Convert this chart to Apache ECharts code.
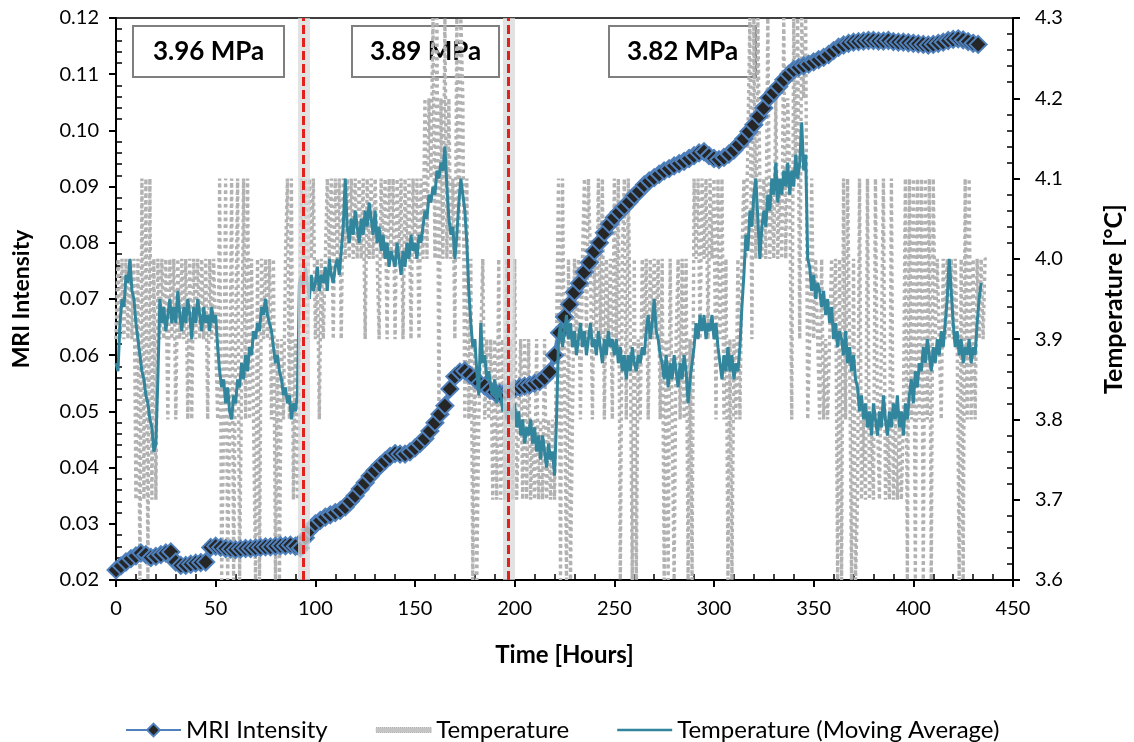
<!DOCTYPE html>
<html><head><meta charset="utf-8">
<script src="https://cdn.jsdelivr.net/npm/echarts@6/dist/echarts.min.js"></script>
<style>html,body{margin:0;padding:0;background:#fff}#c{width:1134px;height:742px}</style>
</head><body><div id="c"></div>
<script>
// ---------------- DATA ----------------
const seriesNames = ['MRI Intensity', 'Temperature', 'Temperature (Moving Average)'];
const pressureLabels = ['3.96 MPa', '3.89 MPa', '3.82 MPa'];
const pressureChangeHours = [94, 197];

// MRI intensity, one value every 2.5 h, chunks [startHour, values]
const mriStep = 2.5;
const mriChunks = [
  [0,   [0.0218,0.0225,0.0232,0.0238,0.0243,0.0248,0.0245,0.0240,0.0242,0.0245,0.0248,0.0250,0.0232,0.0226,0.0226,0.0228,0.0230,0.0231,0.0232,0.0258]],
  [50,  [0.0260,0.0258,0.0256,0.0255,0.0254,0.0255,0.0256,0.0256,0.0257,0.0258,0.0259,0.0259,0.0260,0.0261,0.0261,0.0262,0.0260,0.0257,0.0275,0.0290]],
  [100, [0.0300,0.0306,0.0312,0.0316,0.0320,0.0324,0.0330,0.0340,0.0350,0.0362,0.0373,0.0385,0.0395,0.0404,0.0412,0.0420,0.0425,0.0424,0.0424,0.0428]],
  [150, [0.0435,0.0443,0.0452,0.0465,0.0480,0.0495,0.0510,0.0540,0.0562,0.0570,0.0572,0.0565,0.0558,0.0550,0.0545,0.0538,0.0534,0.0532,0.0533,0.0536]],
  [200, [0.0540,0.0543,0.0545,0.0547,0.0550,0.0553,0.0560,0.0570,0.0600,0.0640,0.0668,0.0690,0.0712,0.0728,0.0748,0.0765,0.0785,0.0800,0.0818,0.0833]],
  [250, [0.0845,0.0855,0.0864,0.0873,0.0884,0.0892,0.0903,0.0910,0.0916,0.0922,0.0928,0.0932,0.0937,0.0941,0.0945,0.0950,0.0955,0.0960,0.0962,0.0955]],
  [300, [0.0950,0.0948,0.0952,0.0958,0.0965,0.0975,0.0985,0.0998,0.1010,0.1025,0.1040,0.1058,0.1068,0.1078,0.1090,0.1100,0.1108,0.1112,0.1115,0.1118]],
  [350, [0.1122,0.1126,0.1130,0.1135,0.1142,0.1148,0.1152,0.1155,0.1157,0.1158,0.1159,0.1160,0.1160,0.1159,0.1159,0.1160,0.1158,0.1157,0.1157,0.1156]],
  [400, [0.1155,0.1154,0.1153,0.1152,0.1153,0.1155,0.1157,0.1160,0.1162,0.1163,0.1161,0.1158,0.1155,0.1153]]
];

// Raw temperature: quantised sensor levels; each digit = one hourly reading (index into tempLevels)
const tempLevels = [3.6, 3.7, 3.8, 3.9, 4.0, 4.1, 4.2, 4.3];
const tempRawSegments = [
  [0,'3434343434'],[10,'140515051414'],[22,'34342434243434242434343424343'],
  [51,'250250250350'],[63,'0525'],[67,'2420404343424030324'],[86,'525131'],
  [92,'35453545'],[100,'34243'],[105,'354535453545'],[117,'45454545'],[125,'35'],
  [127,'45454'],[132,'3545354535453545354535'],[154,'46465'],[159,'7472'],[163,'64'],
  [165,'7464'],[169,'53'],[171,'747'],[174,'6252'],[178,'40302'],[183,'242323'],
  [189,'1314131413'],[199,'141'],[202,'2313131213121312121'],[221,'3505'],[225,'5040'],
  [229,'243424'],[235,'5354'],[239,'243'],[242,'5352'],[246,'4342'],[250,'5350'],
  [254,'4'],[255,'5253'],[259,'0403'],[263,'2434243434'],[273,'24030420342'],
  [284,'424'],[287,'030'],[290,'545'],[293,'3'],[294,'545'],[297,'3'],[298,'5452535'],
  [305,'24'],[307,'0303'],[311,'242'],[314,'454'],[317,'4737475'],[324,'454745464547465'],
  [339,'275737672'],[348,'35343'],[353,'24232'],[358,'24340405253040'],[372,'1512151215'],
  [382,'21'],[384,'151215121'],[393,'212'],[396,'50525052505250'],[410,'5343'],
  [414,'24343434'],[422,'3040'],[426,'525'],[429,'242434344']
];

// Moving-average temperature, hourly, chunks [startHour, values]
const tempMASegments = [
  [0,   [3.87,3.86,3.92,3.95,3.94,3.98,3.97,4.00,3.96,3.95,3.92,3.90,3.88,3.86,3.85,3.83,3.82,3.80,3.79,3.76,3.77,3.85]],
  [22,  [3.95,3.92,3.94,3.91,3.93,3.95,3.92,3.94,3.92,3.96,3.93,3.91,3.94,3.92,3.95,3.93,3.90,3.94,3.92,3.95,3.93,3.91,3.94,3.92,3.93,3.91,3.94,3.92,3.93]],
  [51,  [3.89,3.86,3.84,3.85,3.82,3.84,3.81,3.80,3.83,3.82,3.85,3.84,3.87,3.85,3.88,3.86,3.89,3.88,3.91,3.90,3.92,3.91,3.94,3.93,3.95,3.93,3.92,3.91,3.89,3.87,3.88,3.86,3.85,3.83,3.84,3.82,3.83,3.80,3.82,3.81,3.83]],
  [92,  [3.97,3.98,3.96,3.99,3.97,3.95,3.98,3.96,3.97,3.99,3.96,3.98,3.97,3.99,3.96,4.00,3.98,3.97,3.99,4.00,3.98,4.01,4.04,4.10,4.04,4.02,4.05,4.03,4.06,4.04,4.02,4.05,4.03,4.06,4.04,4.07,4.05,4.03,4.06,4.02]],
  [132, [4.04,4.01,4.03,4.00,4.02,3.99,4.01,4.00,3.99,4.02,4.00,3.98,4.01,3.99,4.02,4.00,4.03,4.01,4.02,4.00,4.03,4.02,4.04,4.06,4.05,4.08,4.07,4.09,4.08,4.11,4.10,4.12,4.11,4.14,4.09,4.05,4.03,4.04,4.00,4.03,4.07,4.10,4.08,4.06,4.02,3.96]],
  [178, [3.92,3.89,3.90,3.86,3.83,3.92,3.87,3.88,3.85,3.86,3.84,3.83,3.85,3.82,3.84,3.83,3.81,3.82,3.80,3.82,3.81,3.80,3.82,3.79,3.81,3.78,3.80,3.77,3.79,3.78,3.80,3.77,3.79,3.76,3.78,3.75,3.78,3.76,3.74,3.77,3.75,3.76,3.73,3.80]],
  [222, [3.90,3.92,3.89,3.91,3.93,3.90,3.92,3.89,3.91,3.88,3.90,3.92,3.89,3.91,3.88,3.90,3.92,3.89,3.90,3.88,3.91,3.89,3.87,3.90,3.88,3.91,3.89,3.90,3.88,3.90]],
  [252, [3.87,3.89,3.86,3.88,3.85,3.88,3.86,3.89,3.87,3.86,3.88,3.87,3.89,3.88,3.91,3.93,3.90,3.92,3.95,3.91,3.90,3.88]],
  [274, [3.87,3.85,3.88,3.84,3.87,3.85,3.88,3.86,3.84,3.87,3.85,3.88,3.86,3.82,3.85,3.87,3.89,3.92,3.90,3.93,3.91,3.93,3.90,3.92,3.91,3.93,3.90,3.92,3.89]],
  [303, [3.87,3.85,3.88,3.86,3.89,3.86,3.88,3.85,3.87,3.86,3.89,3.94,3.98,4.03,4.01,4.06,4.04,4.08,4.10,4.05,4.00,4.04,4.06,4.04,4.08,4.06,4.10,4.08,4.12,4.07,4.10,4.08,4.11,4.09,4.12,4.08,4.11,4.09,4.13,4.10,4.12,4.17,4.11,4.13]],
  [347, [4.00,3.99,3.96,3.98,3.95,3.97,3.96,3.94,3.96,3.93,3.95,3.92,3.94,3.90,3.92,3.89,3.91,3.90,3.88,3.91,3.87,3.89,3.86,3.88,3.85,3.84]],
  [373, [3.81,3.83,3.80,3.82,3.79,3.81,3.78,3.82,3.80,3.78,3.81,3.79,3.83,3.80,3.78,3.81,3.79,3.82,3.80,3.83,3.79,3.81,3.78,3.82,3.80]],
  [398, [3.83,3.85,3.82,3.86,3.84,3.87,3.86,3.89,3.87,3.90,3.88,3.86,3.89,3.87,3.90,3.88,3.91,3.89,3.92,3.95,4.00,3.96,3.92]],
  [421, [3.89,3.91,3.88,3.90,3.87,3.89,3.88,3.90,3.87,3.89,3.88,3.92,3.95,3.97]]
];

// ---------------- BUILD ----------------
const mriData = mriChunks.flatMap(([s, vals]) => vals.map((v, i) => [s + i * mriStep, v]));
const rawData = tempRawSegments.flatMap(([s, str]) => str.split('').map((c, i) => [s + i, tempLevels[+c]]));
const maData = tempMASegments.flatMap(([s, vals]) => vals.map((v, i) => [s + i, v]));

const FONT = 'Lato';
const chart = echarts.init(document.getElementById('c'), null, {renderer: 'canvas'});

function box(x, w, label) {
  return {
    type: 'group', left: x, top: 25, children: [
      {type: 'rect', shape: {x: 0, y: 0, width: w, height: 51},
       style: {fill: '#fff', stroke: '#7f7f7f', lineWidth: 2}},
      {type: 'text', x: w / 2, y: 26,
       style: {text: label, font: 'bold 26px ' + FONT, fill: '#000', textAlign: 'center', textVerticalAlign: 'middle'}}
    ], z: 100
  };
}

const axisNameStyle = {fontFamily: FONT, fontSize: 23, fontWeight: 'bold', color: '#000'};
const tickLabel = {fontFamily: FONT, fontSize: 20, color: '#000'};

const option = {
  animation: false,
  backgroundColor: '#fff',
  grid: {left: 116, right: 117, top: 18, bottom: 162, show: true, borderColor: '#000', borderWidth: 1.5, backgroundColor: 'transparent'},
  legend: {
    data: [
      {name: seriesNames[0]},
      {name: seriesNames[1], icon: 'path://M0,0 L55,0 L55,5 L0,5 Z', itemStyle: {color: '#c4c4c4', borderColor: '#a8a8a8', borderWidth: 1, borderType: 'dotted'}},
      {name: seriesNames[2], icon: 'path://M0,0 L55,0 L55,2.5 L0,2.5 Z', itemStyle: {color: '#31859c'}}
    ],
    left: 120, top: 713, itemWidth: 55, itemHeight: 16, itemGap: 48,
    textStyle: {fontFamily: FONT, fontSize: 24, color: '#000'}
  },
  xAxis: {
    type: 'value', min: 0, max: 450, interval: 50,
    axisLine: {show: true, onZero: false, lineStyle: {color: '#000', width: 2}},
    axisTick: {show: true, length: 7, lineStyle: {color: '#000', width: 2}},
    minorTick: {show: true, splitNumber: 5, length: -6, lineStyle: {color: '#000', width: 1.5}},
    splitLine: {show: false},
    axisLabel: Object.assign({margin: 19}, tickLabel),
    name: 'Time [Hours]', nameLocation: 'middle', nameGap: 63,
    nameTextStyle: Object.assign({}, axisNameStyle, {fontSize: 24})
  },
  yAxis: [
    {
      type: 'value', min: 0.02, max: 0.12, interval: 0.01, position: 'left',
      axisLine: {show: true, lineStyle: {color: '#000', width: 2}},
      axisTick: {show: true, length: 7, lineStyle: {color: '#000', width: 2}},
      minorTick: {show: true, splitNumber: 5, length: -6, lineStyle: {color: '#000', width: 1.5}},
      splitLine: {show: false},
      axisLabel: Object.assign({margin: 17, formatter: v => v.toFixed(2)}, tickLabel),
      name: 'MRI Intensity', nameLocation: 'middle', nameGap: 83, nameRotate: 90,
      nameTextStyle: axisNameStyle
    },
    {
      type: 'value', min: 3.6, max: 4.3, interval: 0.1, position: 'right',
      axisLine: {show: true, lineStyle: {color: '#000', width: 2}},
      axisTick: {show: true, length: 7, lineStyle: {color: '#000', width: 2}},
      minorTick: {show: true, splitNumber: 5, length: -6, lineStyle: {color: '#000', width: 1.5}},
      splitLine: {show: false},
      axisLabel: Object.assign({margin: 22, formatter: v => v.toFixed(1)}, tickLabel),
      name: 'Temperature [°C]', nameLocation: 'middle', nameGap: 88, nameRotate: 90,
      nameTextStyle: Object.assign({}, axisNameStyle, {fontSize: 25})
    }
  ],
  series: [
    {
      name: seriesNames[1], type: 'line', yAxisIndex: 1, data: rawData,
      showSymbol: false, symbol: 'none', silent: true, z: 1,
      lineStyle: {color: '#b2b2b2', width: 3.4, type: 'dotted'},
      itemStyle: {color: '#b0b0b0'}
    },
    {
      name: seriesNames[0], type: 'line', yAxisIndex: 0, data: mriData,
      symbol: 'diamond', symbolSize: 17, showSymbol: true, z: 3,
      lineStyle: {color: '#4f81bd', width: 5},
      itemStyle: {color: '#262626', borderColor: '#4f81bd', borderWidth: 2}
    },
    {
      name: seriesNames[2], type: 'line', yAxisIndex: 1, data: maData,
      showSymbol: false, symbol: 'none', z: 4,
      lineStyle: {color: '#31859c', width: 3},
      itemStyle: {color: '#31859c'}
    },
    {
      name: 'glow', type: 'line', yAxisIndex: 0, data: [], z: 5, silent: true,
      markLine: {
        symbol: ['none', 'none'], silent: true, label: {show: false},
        lineStyle: {color: '#d8d8d8', width: 12, type: 'solid', opacity: 0.75},
        data: pressureChangeHours.map(h => ({xAxis: h}))
      }
    },
    {
      name: 'pressure change', type: 'line', yAxisIndex: 0, data: [], z: 6, silent: true,
      markLine: {
        symbol: ['none', 'none'], silent: true, label: {show: false},
        lineStyle: {color: '#e3211c', width: 3, type: [9, 4]},
        data: pressureChangeHours.map(h => ({xAxis: h}))
      }
    }
  ],
  graphic: [
    box(132, 151, pressureLabels[0]),
    box(351, 147, pressureLabels[1]),
    box(608, 147, pressureLabels[2])
  ]
};
chart.setOption(option);
</script>
</body></html>
